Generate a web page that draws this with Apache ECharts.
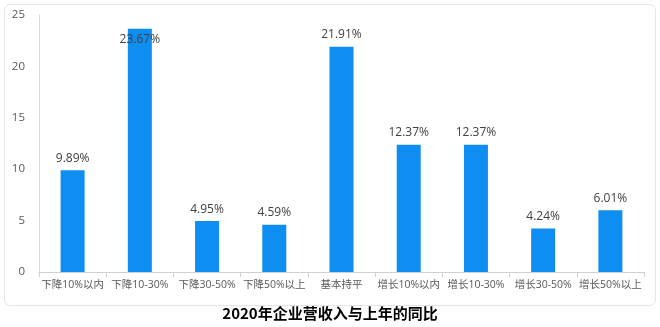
<!DOCTYPE html>
<html>
<head>
<meta charset="utf-8">
<script src="https://cdn.jsdelivr.net/npm/echarts@6/dist/echarts.min.js"></script>
<style>
  html, body { margin: 0; padding: 0; background: #fff; }
  #chart { width: 660px; height: 327px; }
</style>
</head>
<body>
<div id="chart"></div>
<script>
const categories = ['下降10%以内', '下降10-30%', '下降30-50%', '下降50%以上', '基本持平', '增长10%以内', '增长10-30%', '增长30-50%', '增长50%以上']
const values = [9.89, 23.67, 4.95, 4.59, 21.91, 12.37, 12.37, 4.24, 6.01]
const yTicks = [0, 5, 10, 15, 20, 25]

const chart = echarts.init(document.getElementById('chart'))

const font = '"Open Sans", "Noto Sans CJK SC", sans-serif'

const option = {
  animation: false,
  graphic: [
    {
      type: 'rect',
      shape: { x: 4.5, y: 4.5, width: 651, height: 301, r: 6 },
      style: { fill: 'none', stroke: '#e4e4e4', lineWidth: 1 },
      z: -1
    }
  ],
  title: {
    text: '2020年企业营收入与上年的同比',
    left: 'center',
    top: 301,
    textStyle: {
      fontSize: 15,
      fontWeight: 'bold',
      color: '#000',
      fontFamily: '"Noto Sans CJK SC", sans-serif'
    }
  },
  grid: {
    left: 39,
    right: 16,
    top: 15,
    bottom: 55
  },
  xAxis: {
    type: 'category',
    data: categories,
    axisLine: { lineStyle: { color: '#d0d0d0' } },
    axisTick: { show: true, length: 5, lineStyle: { color: '#d0d0d0' } },
    axisLabel: {
      interval: 0,
      color: '#595959',
      fontSize: 10.5,
      margin: 8,
      fontFamily: font
    }
  },
  yAxis: {
    type: 'value',
    min: yTicks[0],
    max: yTicks[yTicks.length - 1],
    interval: 5,
    axisLine: { show: true, lineStyle: { color: '#d9d9d9' } },
    axisTick: { show: false },
    splitLine: { show: false },
    axisLabel: {
      color: '#595959',
      fontSize: 11.5,
      margin: 14,
      fontFamily: font
    }
  },
  series: [
    {
      type: 'bar',
      barWidth: 24,
      data: values.map(v => ({
        value: v,
        label: v > 23 ? { position: 'insideTop', distance: 5 } : {}
      })),
      itemStyle: { color: '#0e8ef0' },
      label: {
        show: true,
        position: 'top',
        distance: 6,
        color: '#404040',
        fontSize: 12,
        fontFamily: font,
        formatter: p => p.value.toFixed(2) + '%'
      }
    }
  ]
}

chart.setOption(option)
</script>
</body>
</html>
